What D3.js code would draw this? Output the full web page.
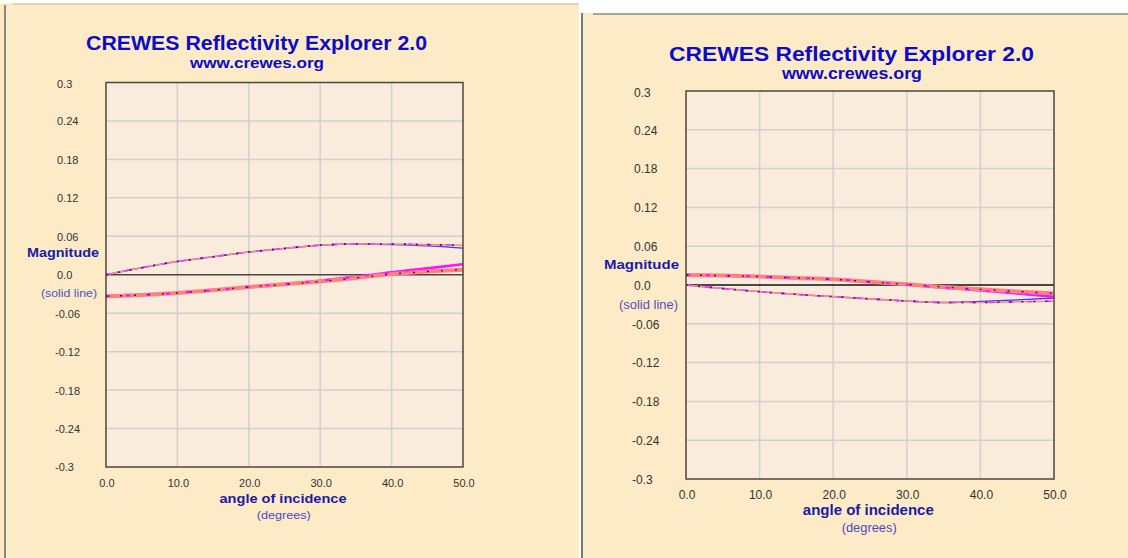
<!DOCTYPE html>
<html>
<head>
<meta charset="utf-8">
<script src="https://cdn.jsdelivr.net/npm/d3@7"></script>
<style>
  html, body { margin: 0; padding: 0; background: #fff; }
  svg { display: block; font-family: "Liberation Sans", Arial, sans-serif; }
</style>
</head>
<body>
<svg id="chart" width="1128" height="558"></svg>
<script>
// angle of incidence (degrees)
const angles = [0, 5, 10, 15, 20, 25, 30, 35, 40, 45, 50];

const xTicks = [0, 10, 20, 30, 40, 50];
const xTickLabels = ["0.0", "10.0", "20.0", "30.0", "40.0", "50.0"];
const yTicks = [0.3, 0.24, 0.18, 0.12, 0.06, 0, -0.06, -0.12, -0.18, -0.24, -0.3];
const yTickLabels = ["0.3", "0.24", "0.18", "0.12", "0.06", "0.0", "-0.06", "-0.12", "-0.18", "-0.24", "-0.3"];

// left screenshot
const leftPPExact  = [-0.0335, -0.0315, -0.0284, -0.024, -0.019, -0.015, -0.0105, -0.005, 0.001, 0.005, 0.008];
const leftPPApprox = [-0.0335, -0.0315, -0.0284, -0.024, -0.019, -0.0145, -0.0095, -0.003, 0.004, 0.010, 0.0165];
const leftPSExact  = [0, 0.011, 0.0207, 0.028, 0.0355, 0.041, 0.046, 0.048, 0.048, 0.047, 0.046];
const leftPSApprox = [0, 0.011, 0.0207, 0.028, 0.0355, 0.041, 0.046, 0.048, 0.047, 0.045, 0.0415];

// right screenshot
const rightPPExact  = [0.0155, 0.0145, 0.013, 0.011, 0.0088, 0.005, 0.001, -0.003, -0.0067, -0.010, -0.013];
const rightPPApprox = [0.0155, 0.0145, 0.013, 0.011, 0.0088, 0.005, 0.0005, -0.004, -0.0085, -0.013, -0.018];
const rightPSExact  = [0, -0.0055, -0.0103, -0.0145, -0.018, -0.0215, -0.0247, -0.027, -0.027, -0.026, -0.025];
const rightPSApprox = [0, -0.0055, -0.0103, -0.0145, -0.018, -0.0215, -0.0247, -0.027, -0.0255, -0.023, -0.020];

class ReflectivityPanel {
  constructor(svg, layout, series) {
    this.svg = svg;
    this.layout = layout;
    this.series = series;

    const p = layout.plot;
    this.x = d3.scaleLinear().domain([0, 50]).range([p.left, p.right]);
    this.y = d3.scaleLinear().domain([-0.3, 0.3]).range([p.bottom, p.top]);

    this.create();
  }

  label(g, cfg, text, weight, color) {
    g.append("text")
      .attr("x", cfg.x)
      .attr("y", cfg.y)
      .attr("text-anchor", "middle")
      .attr("textLength", cfg.len)
      .attr("lengthAdjust", "spacingAndGlyphs")
      .style("font-size", cfg.size + "px")
      .style("font-weight", weight)
      .attr("fill", color)
      .text(text);
  }

  create() {
    const L = this.layout, p = L.plot, x = this.x, y = this.y;
    const g = this.svg.append("g");

    // panel background + frame
    g.append("rect")
      .attr("x", L.bg.x).attr("y", L.bg.y)
      .attr("width", L.bg.w).attr("height", L.bg.h)
      .attr("fill", "#fdebc8");
    L.frame.forEach(f => {
      g.append("line")
        .attr("x1", f[0]).attr("y1", f[1]).attr("x2", f[2]).attr("y2", f[3])
        .attr("stroke", f[4]).attr("stroke-width", 2);
    });

    // titles
    this.label(g, L.title, "CREWES Reflectivity Explorer 2.0", "bold", "#0c0cc4");
    this.label(g, L.site, "www.crewes.org", "bold", "#0c0cc4");

    // plot area
    g.append("rect")
      .attr("x", p.left).attr("y", p.top)
      .attr("width", p.right - p.left).attr("height", p.bottom - p.top)
      .attr("fill", "#f9ecdc");

    g.selectAll("line.vgrid")
      .data(xTicks.slice(1, -1))
      .enter().append("line")
      .attr("class", "vgrid")
      .attr("x1", d => x(d)).attr("x2", d => x(d))
      .attr("y1", p.top).attr("y2", p.bottom)
      .attr("stroke", "#d2d0cc").attr("stroke-width", 1.5);

    g.selectAll("line.hgrid")
      .data(yTicks.filter(d => d !== 0 && Math.abs(d) < 0.3))
      .enter().append("line")
      .attr("class", "hgrid")
      .attr("x1", p.left).attr("x2", p.right)
      .attr("y1", d => y(d)).attr("y2", d => y(d))
      .attr("stroke", "#d2d0cc").attr("stroke-width", 1.5);

    // zero line
    g.append("line")
      .attr("x1", p.left).attr("x2", p.right)
      .attr("y1", y(0)).attr("y2", y(0))
      .attr("stroke", L.zeroColor).attr("stroke-width", 1.5);

    // curves
    const line = d3.line()
      .x((d, i) => x(angles[i]))
      .y(d => y(d))
      .curve(d3.curveMonotoneX);

    const s = this.series;
    const draw = (vals, color, width, dash) => {
      const path = g.append("path")
        .attr("d", line(vals))
        .attr("fill", "none")
        .attr("stroke", color)
        .attr("stroke-width", width)
        .attr("stroke-linecap", "butt");
      if (dash) path.attr("stroke-dasharray", dash);
    };

    // converted wave (thin)
    draw(s.psApprox, "#3a3aff", 1.4);
    draw(s.psExact, "#ff8c8c", 1.6);
    draw(s.psExact, "#ff30ff", 1.6, "5,14");
    draw(s.psExact, "#2a1a6a", 1.6, "2,10");

    // P-P wave (thick, solid)
    draw(s.ppApprox, "#ff10ff", 2.6);
    draw(s.ppExact, "#ff8080", 4);
    draw(s.ppApprox, "#ff10ff", 2, "4,16");
    draw(s.ppExact, "#2a1a6a", 1.4, "2,12");

    // box
    g.append("rect")
      .attr("x", p.left).attr("y", p.top)
      .attr("width", p.right - p.left).attr("height", p.bottom - p.top)
      .attr("fill", "none")
      .attr("stroke", "#4e463e").attr("stroke-width", 1.5);

    // tick labels
    g.selectAll("text.ytick")
      .data(yTicks)
      .enter().append("text")
      .attr("class", "ytick")
      .attr("x", d => L.yTickX - (d < 0 ? 2 : 0))
      .attr("y", (d, i) => y(d) + 0.36 * L.tickSize + (i === 0 ? 1.5 : 0.5))
      .style("font-size", L.tickSize + "px")
      .attr("fill", "#333")
      .text((d, i) => yTickLabels[i]);

    g.selectAll("text.xtick")
      .data(xTicks)
      .enter().append("text")
      .attr("class", "xtick")
      .attr("x", d => x(d) + 1)
      .attr("y", L.xTickY)
      .attr("text-anchor", "middle")
      .style("font-size", L.tickSize + "px")
      .attr("fill", "#333")
      .text((d, i) => xTickLabels[i]);

    // axis titles
    this.label(g, L.mag, "Magnitude", "bold", "#1a1aa8");
    this.label(g, L.solid, "(solid line)", "normal", "#5050c4");
    this.label(g, L.angle, "angle of incidence", "bold", "#1a1aa8");
    this.label(g, L.deg, "(degrees)", "normal", "#4a4ac0");
  }
}

const svg = d3.select("#chart");

new ReflectivityPanel(svg, {
  bg: { x: 0, y: 3, w: 579, h: 555 },
  frame: [[13, 4, 579, 4, "#e2d2b6"], [5, 5, 5, 558, "#8a8680"]],
  plot: { left: 106, right: 463, top: 82.5, bottom: 467 },
  zeroColor: "#4a4440",
  title: { x: 256.5, y: 50, size: 20, len: 341 },
  site: { x: 257, y: 67.6, size: 15.5, len: 134 },
  tickSize: 11,
  yTickX: 57,
  xTickY: 486.6,
  mag: { x: 63, y: 257.3, size: 12, len: 72 },
  solid: { x: 69, y: 297.1, size: 11, len: 56 },
  angle: { x: 283, y: 502.7, size: 13, len: 127 },
  deg: { x: 283.7, y: 518.9, size: 11, len: 54 }
}, { ppExact: leftPPExact, ppApprox: leftPPApprox, psExact: leftPSExact, psApprox: leftPSApprox });

new ReflectivityPanel(svg, {
  bg: { x: 583, y: 13, w: 545, h: 545 },
  frame: [[593, 14, 1128, 14, "#a8a49e"], [582, 13, 582, 558, "#7c7a78"]],
  plot: { left: 686, right: 1054, top: 91, bottom: 479 },
  zeroColor: "#111",
  title: { x: 851.5, y: 61, size: 21, len: 365 },
  site: { x: 852, y: 79, size: 16, len: 140 },
  tickSize: 12,
  yTickX: 634,
  xTickY: 498.6,
  mag: { x: 641.5, y: 269.3, size: 13, len: 75 },
  solid: { x: 648.5, y: 308.7, size: 12, len: 59 },
  angle: { x: 868.3, y: 515.3, size: 14, len: 131 },
  deg: { x: 869.2, y: 532.1, size: 12, len: 55 }
}, { ppExact: rightPPExact, ppApprox: rightPPApprox, psExact: rightPSExact, psApprox: rightPSApprox });
</script>
</body>
</html>
